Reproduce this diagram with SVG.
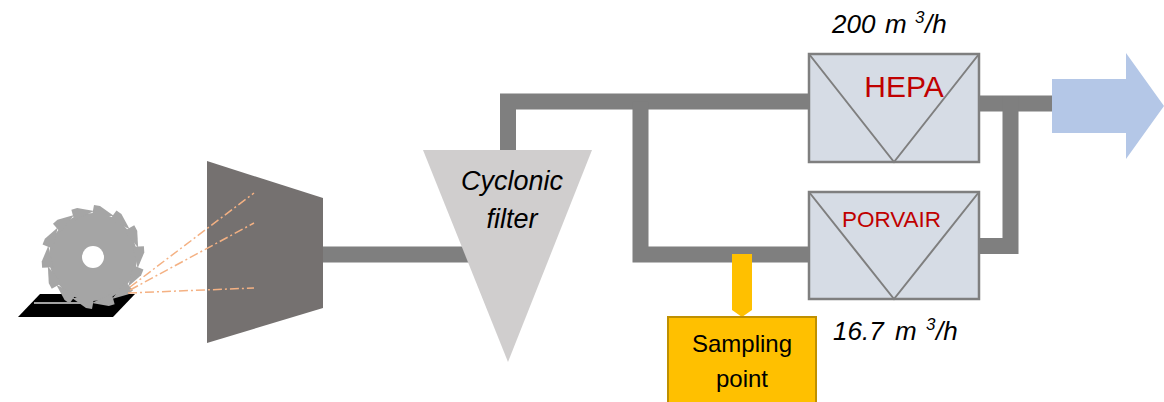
<svg xmlns="http://www.w3.org/2000/svg" xmlns:xlink="http://www.w3.org/1999/xlink" width="1164" height="402" viewBox="0 0 1164 402">
  <style>
    .pipe { fill: none; stroke: #7f7f7f; stroke-width: 16; stroke-linejoin: miter; stroke-linecap: butt; }
    .filterbox { fill: #d6dce5; stroke: #7f7f7f; stroke-width: 2.5; }
    .vee { fill: none; stroke: #7f7f7f; stroke-width: 2; }
    .spray { fill: none; stroke: #f4b183; stroke-width: 1.5; stroke-dasharray: 9 3 2 3; }
    .lbl { font-family: "Liberation Sans", Arial, sans-serif; }
    .flow { font-family: "Liberation Sans", Arial, sans-serif; font-style: italic; font-size: 26px; fill: #000; }
    .red { fill: #c00000; text-anchor: middle; }
  </style>
  <defs>
    <!-- one hooked saw tooth, repeated round the blade -->
    <polygon id="tooth" points="-1,-41 1,-52 7,-51 21,-41" fill="#a5a5a5"/>
  </defs>

  <!-- work piece and saw blade -->
  <g id="saw">
    <polygon points="40,294 135,294 113,317 18,317" fill="#000"/>
    <line x1="34" y1="303" x2="84" y2="303" stroke="#d9d9d9" stroke-width="1.5"/>
    <g transform="translate(93,257)">
      <circle r="44" fill="#a5a5a5"/>
      <use xlink:href="#tooth" transform="rotate(0)"/>
      <use xlink:href="#tooth" transform="rotate(25.7)"/>
      <use xlink:href="#tooth" transform="rotate(51.4)"/>
      <use xlink:href="#tooth" transform="rotate(77.1)"/>
      <use xlink:href="#tooth" transform="rotate(102.9)"/>
      <use xlink:href="#tooth" transform="rotate(128.6)"/>
      <use xlink:href="#tooth" transform="rotate(154.3)"/>
      <use xlink:href="#tooth" transform="rotate(180)"/>
      <use xlink:href="#tooth" transform="rotate(205.7)"/>
      <use xlink:href="#tooth" transform="rotate(231.4)"/>
      <use xlink:href="#tooth" transform="rotate(257.1)"/>
      <use xlink:href="#tooth" transform="rotate(282.9)"/>
      <use xlink:href="#tooth" transform="rotate(308.6)"/>
      <use xlink:href="#tooth" transform="rotate(334.3)"/>
      <circle r="11" fill="#fff"/>
    </g>
  </g>

  <!-- connecting ducts -->
  <g id="connectors">
    <path class="pipe" d="M322,254.5 H480"/>
    <path class="pipe" d="M508,160 V101.5 H810"/>
    <path class="pipe" d="M640.5,101.5 V254.5 H810"/>
    <path class="pipe" d="M978,103.5 H1060"/>
    <path class="pipe" d="M1010.5,96 V246 H978"/>
    <polygon points="732,254 752,254 752,310 742,317 732,310" fill="#ffc000"/>
  </g>

  <!-- extraction hood -->
  <g id="hood">
    <polygon points="207,161 323,198 323,308 207,343" fill="#757170"/>
  </g>

  <!-- particle spray from blade into hood -->
  <g id="spray">
    <line class="spray" x1="130" y1="287" x2="254" y2="193"/>
    <line class="spray" x1="130" y1="290" x2="254" y2="223"/>
    <line class="spray" x1="128" y1="293" x2="254" y2="288"/>
  </g>

  <!-- cyclonic filter -->
  <g id="cyclone">
    <polygon points="423,150 592,150 508,362" fill="#d0cece"/>
    <text class="lbl" x="512" y="190" font-size="27" font-style="italic" text-anchor="middle">Cyclonic</text>
    <text class="lbl" x="512" y="228" font-size="27" font-style="italic" text-anchor="middle">filter</text>
  </g>

  <!-- HEPA filter -->
  <g id="hepa">
    <rect class="filterbox" x="809" y="54" width="170" height="108"/>
    <polyline class="vee" points="809,54 894,162 979,54"/>
    <text class="lbl red" x="904" y="97" font-size="30">HEPA</text>
  </g>

  <!-- PORVAIR filter -->
  <g id="porvair">
    <rect class="filterbox" x="809" y="192" width="170" height="107"/>
    <polyline class="vee" points="809,192 894,299 979,192"/>
    <text class="lbl red" x="891.5" y="227" font-size="22.5">PORVAIR</text>
  </g>

  <!-- sampling point -->
  <g id="sampling">
    <rect x="668" y="317" width="148" height="95" fill="#ffc000" stroke="#bf9000" stroke-width="2"/>
    <text class="lbl" x="742" y="352" font-size="24" text-anchor="middle">Sampling</text>
    <text class="lbl" x="742" y="387" font-size="24" text-anchor="middle">point</text>
  </g>

  <!-- exhaust arrow -->
  <g id="exhaust">
    <polygon points="1052,79 1126,79 1126,53 1164,106 1126,159 1126,133 1052,133" fill="#b4c7e7"/>
  </g>

  <!-- flow rates -->
  <g id="flow-hepa">
    <text class="flow" y="33"><tspan x="832">200</tspan><tspan x="885">m</tspan><tspan x="915" dy="-10" font-size="17">3</tspan><tspan x="925" dy="10">/h</tspan></text>
  </g>
  <g id="flow-porvair">
    <text class="flow" y="340"><tspan x="833">16.7</tspan><tspan x="895">m</tspan><tspan x="926" dy="-10" font-size="17">3</tspan><tspan x="936" dy="10">/h</tspan></text>
  </g>
</svg>
